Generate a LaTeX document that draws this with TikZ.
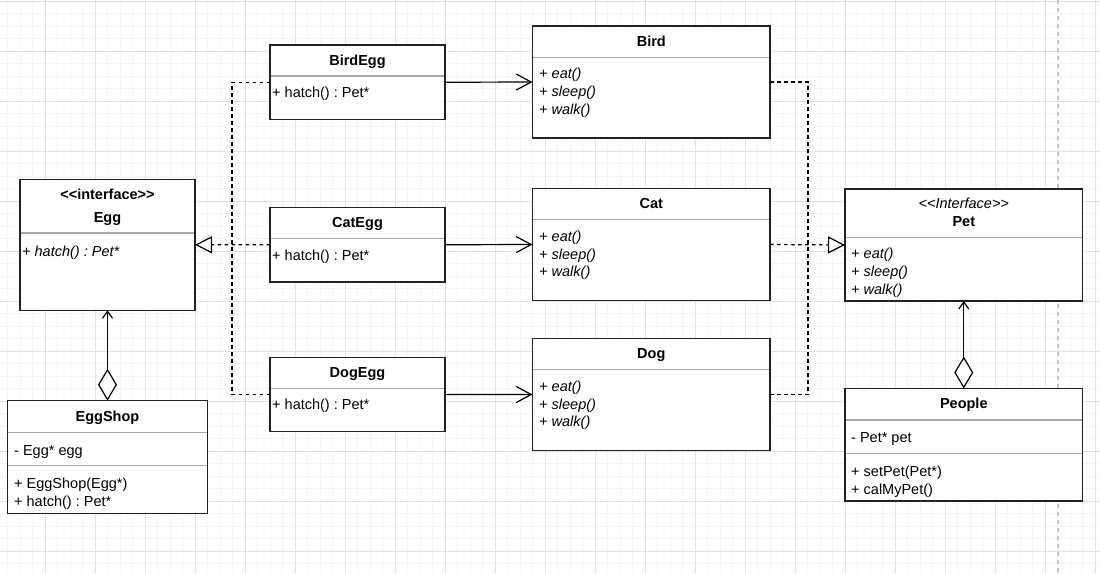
\documentclass[tikz,border=0pt]{standalone}
\usepackage{fontspec}
\setmainfont{Liberation Sans}
\usetikzlibrary{arrows.meta}
\definecolor{gridminor}{HTML}{F4F4F4}
\definecolor{gridmajor}{HTML}{E2E2E2}
\definecolor{boxline}{HTML}{222222}
\definecolor{sepline}{HTML}{A8A8A8}
\definecolor{pageline}{HTML}{C4C4C4}
\newcommand{\fs}{\fontsize{14.5}{17}\selectfont}
\newcommand{\ltlt}{<\kern0pt<}
\newcommand{\gtgt}{>\kern0pt>}
\frenchspacing
\tikzset{
  cls/.style={draw=boxline, line width=1.2pt, fill=white, anchor=north west, inner sep=0pt, outer sep=0pt},
  sepl/.style={draw=sepline, line width=1.2pt},
  ttl/.style={font=\bfseries\fs, anchor=base, inner sep=0pt},
  mem/.style={font=\fs, anchor=base west, inner sep=0pt},
  imem/.style={font=\itshape\fs, anchor=base west, inner sep=0pt},
  assoc/.style={draw=black, line width=1.2pt, -{Straight Barb[length=15pt,width=16pt]}},
  dline/.style={draw=black, line width=1.2pt, dash pattern=on 3.5pt off 3.5pt},
  real/.style={dline, -{Triangle[open, fill=white, length=17pt, width=17pt]}},
  aggr/.style={draw=black, line width=1.2pt, {Diamond[open, fill=white, length=32pt, width=19pt]}-{Straight Barb[length=7pt,width=10pt]}},
}
\begin{document}
\begin{tikzpicture}[x=1pt,y=-1pt]
\useasboundingbox (0,0) rectangle (1100,573);
\begin{scope}
\clip (0,0) rectangle (1100,573);
\fill[white] (0,0) rectangle (1100,573);
\foreach \k in {0,...,87} \draw[gridminor, line width=1pt] (7.5+12.5*\k,0) -- (7.5+12.5*\k,573);
\foreach \k in {0,...,45} \draw[gridminor, line width=1pt] (0,1+12.5*\k) -- (1100,1+12.5*\k);
\foreach \k in {0,...,21} \draw[gridmajor, line width=1pt] (45+50*\k,0) -- (45+50*\k,573);
\foreach \k in {0,...,11} \draw[gridmajor, line width=1pt] (0,1+50*\k) -- (1100,1+50*\k);
\draw[pageline, line width=1.2pt, dash pattern=on 4pt off 4pt] (1058,0) -- (1058,573);
\end{scope}

% class boxes
\node[cls, minimum width=175pt, minimum height=131pt] (egg) at (20,179.3) {};
\node[cls, minimum width=200pt, minimum height=112.5pt] (eggshop) at (7.5,400.7) {};
\node[cls, minimum width=175pt, minimum height=74.5pt] (birdegg) at (270,45) {};
\node[cls, minimum width=175pt, minimum height=74.5pt] (categg) at (270,207.5) {};
\node[cls, minimum width=175pt, minimum height=74.5pt] (dogegg) at (270,357.3) {};
\node[cls, minimum width=237.5pt, minimum height=112pt] (bird) at (532.5,26) {};
\node[cls, minimum width=237.5pt, minimum height=112pt] (cat) at (532.5,188.5) {};
\node[cls, minimum width=237.5pt, minimum height=112pt] (dog) at (532.5,338.5) {};
\node[cls, minimum width=237.5pt, minimum height=112pt] (pet) at (845,189) {};
\node[cls, minimum width=237.5pt, minimum height=112.5pt] (people) at (845,388.5) {};

% separators
\draw[sepl] (20.6,233) -- (194.4,233);
\draw[sepl] (8.1,432.3) -- (206.9,432.3);
\draw[sepl] (8.1,465.8) -- (206.9,465.8);
\draw[sepl] (270.6,76) -- (444.4,76);
\draw[sepl] (270.6,238.5) -- (444.4,238.5);
\draw[sepl] (270.6,388.5) -- (444.4,388.5);
\draw[sepl] (533.1,57.3) -- (769.4,57.3);
\draw[sepl] (533.1,219.5) -- (769.4,219.5);
\draw[sepl] (533.1,369.5) -- (769.4,369.5);
\draw[sepl] (845.6,237.3) -- (1081.9,237.3);
\draw[sepl] (845.6,420) -- (1081.9,420);
\draw[sepl] (845.6,453.8) -- (1081.9,453.8);

% texts
\node[ttl] (eggst) at (107.5,199) {\ltlt interface\gtgt};
\node[ttl] (eggt) at (107.5,222.5) {Egg};
\node[imem] (eggm) at (22,256) {+ hatch() : Pet*};

\node[ttl] (eggshopt) at (107.5,421) {EggShop};
\node[mem] (eggshopa) at (14,455) {- Egg* egg};
\node[mem] (eggshopm1) at (14,488.5) {+ EggShop(Egg*)};
\node[mem] (eggshopm2) at (14,506) {+ hatch() : Pet*};

\node[ttl] (birdeggt) at (357.5,65) {BirdEgg};
\node[mem] (birdeggm) at (272,97.5) {+ hatch() : Pet*};
\node[ttl] (categgt) at (357.5,227.5) {CatEgg};
\node[mem] (categgm) at (272,260) {+ hatch() : Pet*};
\node[ttl] (dogeggt) at (357.5,377.3) {DogEgg};
\node[mem] (dogeggm) at (272,409.8) {+ hatch() : Pet*};

\node[ttl] (birdt) at (651.3,46) {Bird};
\node[imem] (birdm1) at (539,78.5) {+ eat()};
\node[imem] (birdm2) at (539,96.5) {+ sleep()};
\node[imem] (birdm3) at (539,114.3) {+ walk()};
\node[ttl] (catt) at (651.3,208.5) {Cat};
\node[imem] (catm1) at (539,241) {+ eat()};
\node[imem] (catm2) at (539,259) {+ sleep()};
\node[imem] (catm3) at (539,276.8) {+ walk()};
\node[ttl] (dogt) at (651.3,358.5) {Dog};
\node[imem] (dogm1) at (539,391) {+ eat()};
\node[imem] (dogm2) at (539,409) {+ sleep()};
\node[imem] (dogm3) at (539,426.8) {+ walk()};

\node[font=\itshape\fs, anchor=base, inner sep=0pt] (petst) at (963.8,208.3) {\ltlt Interface\gtgt};
\node[ttl] (pett) at (963.8,226.7) {Pet};
\node[imem] (petm1) at (851,258.5) {+ eat()};
\node[imem] (petm2) at (851,276.2) {+ sleep()};
\node[imem] (petm3) at (851,294) {+ walk()};

\node[ttl] (peoplet) at (963.8,408.5) {People};
\node[mem] (peoplea) at (851,442) {- Pet* pet};
\node[mem] (peoplem1) at (851,476) {+ setPet(Pet*)};
\node[mem] (peoplem2) at (851,494) {+ calMyPet()};

% connectors
\coordinate (jl) at (232,244.8);
\coordinate (jr) at (808,245);
\draw[assoc] (birdegg.east) -- (bird.west);
\draw[assoc] (categg.east) -- (cat.west);
\draw[assoc] (dogegg.east) -- (dog.west);
\draw[dline] (birdegg.west) -| (jl);
\draw[dline] (dogegg.west) -| (jl);
\draw[real] (categg.west) -- (egg.east);
\draw[dline] (bird.east) -| (jr);
\draw[dline] (dog.east) -| (jr);
\draw[real] (cat.east) -- (pet.west);
\draw[aggr] (eggshop.north) -- (egg.south);
\draw[aggr] (people.north) -- (pet.south);
\end{tikzpicture}
\end{document}
